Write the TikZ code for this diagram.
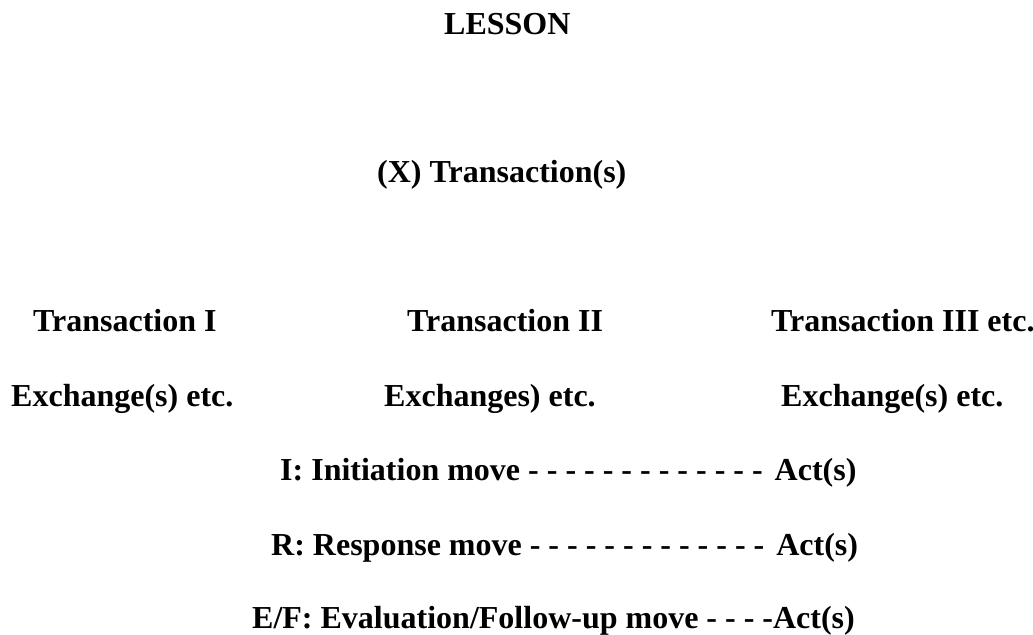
\documentclass[tikz,border=0pt]{standalone}
\usepackage{fontspec}
\setmainfont{Liberation Serif}
\begin{document}
\begin{tikzpicture}[x=1bp,y=-1bp,
  lbl/.style={inner sep=0pt, anchor=base west, font=\fontsize{32bp}{38bp}\selectfont\bfseries}]
\useasboundingbox (0,0) rectangle (1033,635);
\node[lbl] (lesson) at (444,35) {LESSON};
\node[lbl] (xtrans) at (377,183) {(X) Transaction(s)};
\node[lbl] (t1) at (33,331) {Transaction I};
\node[lbl] (t2) at (407,331) {Transaction II};
\node[lbl] (t3) at (771,331) {Transaction III etc.};
\node[lbl] (e1) at (11,406) {Exchange(s) etc.};
\node[lbl] (e2) at (384,406) {Exchanges) etc.};
\node[lbl] (e3) at (781,406) {Exchange(s) etc.};
\node[lbl] (im) at (280,480) {I: Initiation move - - - - - - - - - - - - -\hspace{12bp}Act(s)};
\node[lbl] (rm) at (271,555) {R: Response move - - - - - - - - - - - - -\hspace{12bp}Act(s)};
\node[lbl] (em) at (252,628) {E/F: Evaluation/Follow-up move - - - -Act(s)};
\end{tikzpicture}
\end{document}
